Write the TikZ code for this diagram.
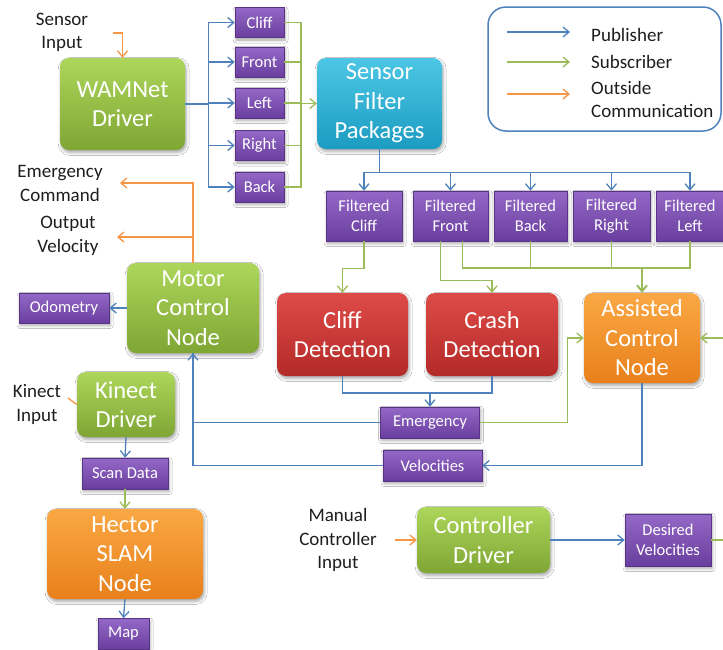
\documentclass[tikz,border=0pt]{standalone}
\usepackage{fontspec}
\setmainfont{Carlito}
\usetikzlibrary{arrows.meta,calc,shadows.blur}

\definecolor{pubblue}{HTML}{4F81BD}
\definecolor{subgreen}{HTML}{9BBB59}
\definecolor{extorange}{HTML}{F79646}
\definecolor{gtop}{HTML}{ADD65B}
\definecolor{gbot}{HTML}{7FA634}
\definecolor{ctop}{HTML}{4CC6E4}
\definecolor{cbot}{HTML}{1C9CC2}
\definecolor{rtop}{HTML}{DE4B47}
\definecolor{rbot}{HTML}{B32A28}
\definecolor{otop}{HTML}{FAA844}
\definecolor{obot}{HTML}{E8801B}
\definecolor{ptop}{HTML}{9468C6}
\definecolor{pbot}{HTML}{6A3E9E}
\definecolor{pbord}{HTML}{5A3388}
\definecolor{lbltext}{HTML}{1E1E1E}

\newcommand\bxfont{\fontsize{24.5}{29.5}\selectfont}
\newcommand\tpfont{\fontsize{16.5}{20.5}\selectfont}
\newcommand\lbfont{\fontsize{19}{23.5}\selectfont}

\tikzset{
  softshadow/.style={blur shadow={shadow xshift=1.2pt,shadow yshift=-2.5pt,
      shadow blur radius=3pt,shadow opacity=35}},
  procbox/.style={rectangle,rounded corners=9pt,align=center,inner sep=0pt,
      text=white,font=\bxfont,softshadow},
  greenbox/.style={procbox,top color=gtop,bottom color=gbot},
  cyanbox/.style={procbox,top color=ctop,bottom color=cbot},
  redbox/.style={procbox,top color=rtop,bottom color=rbot},
  orangebox/.style={procbox,top color=otop,bottom color=obot},
  topicbox/.style={rectangle,inner sep=0pt,align=center,text=white,font=\tpfont,
      top color=ptop,bottom color=pbot,draw=pbord,line width=0.6pt,softshadow},
  txtlbl/.style={align=center,inner sep=0pt,text=lbltext,font=\lbfont},
  publine/.style={draw=pubblue,line width=1.3pt},
  subline/.style={draw=subgreen,line width=1.3pt},
  extline/.style={draw=extorange,line width=1.3pt},
  arr/.style={-{Straight Barb[length=6pt,width=10pt]}},
}

\begin{document}
\begin{tikzpicture}[x=1pt,y=-1pt]
\useasboundingbox (0,0) rectangle (723,649);
\clip (0,0) rectangle (723,649);
\fill[white] (0,0) rectangle (723,649);

% ---------- legend ----------
\node[draw=pubblue,line width=1.5pt,rounded corners=18pt,
      minimum width=233,minimum height=124,inner sep=0pt] (legend) at (604.5,69) {};
\coordinate (lga1) at (507,32);  \coordinate (lga2) at (570,32);
\coordinate (lgb1) at (507,62);  \coordinate (lgb2) at (570,62);
\coordinate (lgc1) at (507,94);  \coordinate (lgc2) at (570,94);
\draw[publine,arr] (lga1) -- (lga2);
\draw[subline,arr] (lgb1) -- (lgb2);
\draw[extline,arr] (lgc1) -- (lgc2);
\node[txtlbl,anchor=west] (lgpub) at (591,35) {Publisher};
\node[txtlbl,anchor=west] (lgsub) at (591,62) {Subscriber};
\node[txtlbl,anchor=west,align=left] (lgext) at (591,99.5) {Outside\\Communication};

% ---------- process nodes ----------
\node[greenbox,minimum width=125,minimum height=92] (wam) at (122.5,104) {WAMNet\\Driver};
\node[cyanbox,minimum width=125,minimum height=91] (sfp) at (379.5,103.5) {Sensor\\Filter\\Packages};
\node[redbox,minimum width=131,minimum height=83] (cliffd) at (342.5,334.5) {Cliff\\Detection};
\node[redbox,minimum width=132,minimum height=83] (crashd) at (492,334.5) {Crash\\Detection};
\node[orangebox,minimum width=116,minimum height=90] (assist) at (642,338) {Assisted\\Control\\Node};
\node[greenbox,minimum width=132,minimum height=90] (motor) at (193,308) {Motor\\Control\\Node};
\node[greenbox,minimum width=98,minimum height=65] (kdrv) at (126,404.5) {Kinect\\Driver};
\node[orangebox,minimum width=156,minimum height=90] (hector) at (125,554) {Hector\\SLAM\\Node};
\node[greenbox,minimum width=133,minimum height=66] (ctrl) at (483.5,540) {Controller\\Driver};

% ---------- topics ----------
\node[topicbox,minimum width=49,minimum height=30] (tcliff) at (259.5,22.5) {Cliff};
\node[topicbox,minimum width=49,minimum height=30] (tfront) at (259.5,62) {Front};
\node[topicbox,minimum width=49,minimum height=30] (tleft)  at (259.5,103) {Left};
\node[topicbox,minimum width=49,minimum height=30] (tright) at (259.5,145.5) {Right};
\node[topicbox,minimum width=49,minimum height=30] (tback)  at (259.5,187) {Back};

\node[topicbox,minimum width=76,minimum height=50] (fcliff) at (364,216) {Filtered\\Cliff};
\node[topicbox,minimum width=75,minimum height=50] (ffront) at (450.5,216) {Filtered\\Front};
\node[topicbox,minimum width=73,minimum height=50] (fback)  at (530.5,216) {Filtered\\Back};
\node[topicbox,minimum width=77,minimum height=50] (fright) at (611.5,216) {Filtered\\Right};
\node[topicbox,minimum width=68,minimum height=50] (fleft)  at (690,216) {Filtered\\Left};

\node[topicbox,minimum width=99,minimum height=31] (emerg) at (430,422.5) {Emergency};
\node[topicbox,minimum width=99,minimum height=31] (vel)   at (432.5,465.5) {Velocities};
\node[topicbox,minimum width=90,minimum height=30] (odom)  at (64,308) {Odometry};
\node[topicbox,minimum width=86,minimum height=31] (scan)  at (125,473.5) {Scan Data};
\node[topicbox,minimum width=51,minimum height=31] (map)   at (123.5,634) {Map};
\node[topicbox,minimum width=86,minimum height=52] (desired) at (668,540) {Desired\\Velocities};

% ---------- outside labels ----------
\node[txtlbl] (sensin) at (62,32.5) {Sensor\\Input};
\node[txtlbl] (emcmd)  at (60,183.5) {Emergency\\Command};
\node[txtlbl] (outvel) at (68,236) {Output\\Velocity};
\node[txtlbl] (kinin)  at (37,404.5) {Kinect\\Input};
\node[txtlbl] (manin)  at (338,540) {Manual\\Controller\\Input};

% ---------- connector anchors ----------
\coordinate (sitail) at (113,33);
\coordinate (gbus)   at (301,103.5);
\coordinate (abus)   at (642,268);
\coordinate (ej)     at (430,393);
\coordinate (emtip)  at (120,183);
\coordinate (ovtip)  at (117,237);
\coordinate (ovbr)   at (193,237);
\coordinate (kintick) at (68,398);
\coordinate (mctail) at (395,540);

% ---------- WAMNet driver and raw sensor topics ----------
\draw[extline,arr] (sitail) -| (wam.north);
\foreach \t in {tcliff,tfront,tleft,tright,tback}
  \draw[publine,arr] (wam.east) -- ++(23,0) |- (\t.west);
\foreach \t in {tcliff,tfront,tleft,tright,tback}
  \draw[subline] (\t.east) -| (gbus);
\draw[subline,arr] (gbus) -- (sfp.west);

% ---------- filtered topics ----------
\foreach \f in {fcliff,ffront,fback,fright,fleft}
  \draw[publine,arr] (sfp.south) -- ++(0,23) -| (\f.north);
\draw[subline,arr] (fcliff.south) -- ++(0,27) -| (cliffd.north);
\draw[subline,arr] ($(ffront.south)+(-10,0)$) -- ++(0,39) -| (crashd.north);
\draw[subline] ($(ffront.south)+(12,0)$) |- (abus);
\draw[subline] (fback.south) |- (abus);
\draw[subline] (fright.south) |- (abus);
\draw[subline] (fleft.south) |- (abus);
\draw[subline,arr,line width=2pt] (abus) -- (assist.north);

% ---------- detection, emergency and velocities ----------
\draw[publine] (cliffd.south) |- (ej) -| (crashd.south);
\draw[publine,arr] (ej) -- (emerg.north);
\draw[publine,arr] (emerg.west) -| (motor.south);
\draw[publine] (vel.west) -| (motor.south);
\draw[subline,arr] (emerg.east) -- ++(88,0) |- (assist.west);
\draw[publine,arr] (assist.south) |- (vel.east);
\draw[subline,arr] (desired.east) -- ++(40,0) |- (assist.east);

% ---------- motor control ----------
\draw[extline,arr] (motor.north) |- (emtip);
\draw[extline,arr] (ovbr) -- (ovtip);
\draw[publine,arr] (motor.west) -- (odom.east);

% ---------- kinect and mapping ----------
\draw[extline] (kintick) -- (kdrv.west);
\draw[publine,arr] (kdrv.south) -- (scan.north);
\draw[subline,arr] (scan.south) -- (hector.north);
\draw[publine,arr] (hector.south) -- (map.north);

% ---------- manual controller ----------
\draw[extline,arr] (mctail) -- (ctrl.west);
\draw[publine,arr] (ctrl.east) -- (desired.west);
\end{tikzpicture}
\end{document}
